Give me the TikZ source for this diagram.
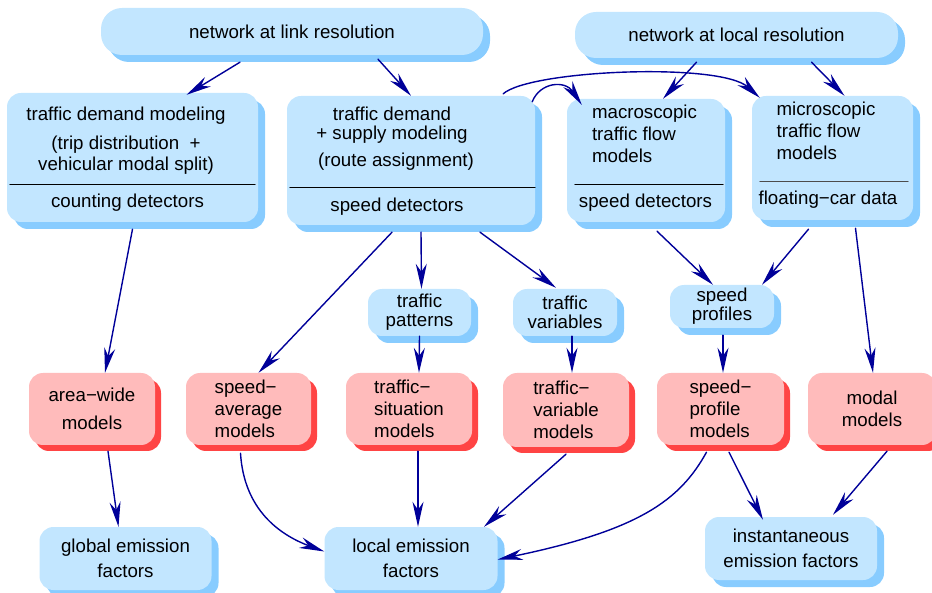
\documentclass[tikz,border=0pt]{standalone}
\usepackage{fontspec}
\setmainfont{Liberation Sans}
\usetikzlibrary{arrows.meta,positioning,calc,shadows}
\definecolor{boxfill}{HTML}{C2E6FF}
\definecolor{boxshade}{HTML}{88CCFF}
\definecolor{modfill}{HTML}{FFBBBB}
\definecolor{modshade}{HTML}{FF4444}
\definecolor{flow}{HTML}{000099}
\tikzset{
  arr/.style={-{Stealth[length=25pt,width=11pt,inset=8pt]}, line width=1.4pt, draw=flow},
  figbase/.style={
    font=\fontsize{18.7}{22}\selectfont,
    color=black,
    line cap=round,
    line join=round,
  },
  box/.style={
    rounded corners=14pt,
    inner sep=0pt,
    align=center,
    text=black,
  },
  bluebox/.style={box, fill=boxfill,
    drop shadow={shadow xshift=7pt, shadow yshift=-7pt, fill=boxshade, opacity=1}},
  redbox/.style={box, fill=modfill, minimum height=72pt,
    drop shadow={shadow xshift=6pt, shadow yshift=-6pt, fill=modshade, opacity=1}},
  netbox/.style={bluebox, rounded corners=21pt},
  txt/.style={inner sep=0pt, align=center, text=black},
  sep/.style={line width=1pt, draw=black},
  tight/.style={font=\fontsize{18.7}{19}\selectfont},
  wide/.style={font=\fontsize{18.7}{25}\selectfont},
}

\begin{document}
\begin{tikzpicture}[figbase, x=1pt, y=-1pt]
  \useasboundingbox (0,0) rectangle (932,593);

  % networks
  \node[netbox, minimum width=382pt, minimum height=47pt] (linknet) at (292,31.5) {network at link resolution};
  \node[netbox, minimum width=323pt, minimum height=46pt] (localnet) at (736.5,35) {network at local resolution};

  % modeling stages with their detector data
  \node[bluebox, minimum width=251pt, minimum height=129pt] (demand) at (132.5,157.5) {};
  \node[txt] (demandhead) at (126,116) {traffic demand modeling};
  \node[txt, font=\fontsize{18.7}{21}\selectfont] (demandsub) at (126,155.5) {(trip distribution\ \ +\\vehicular modal split)};
  \node[txt] (demanddata) at (127.5,203) {counting detectors};
  \draw[sep] ($(demand.south west)+(3,-38)$) -- ($(demand.south east)+(-3,-38)$);

  \node[bluebox, minimum width=248pt, minimum height=129pt] (supply) at (411,160.5) {};
  \node[txt, tight] (supplyhead) at (392,125) {traffic demand\\+ supply modeling};
  \node[txt] (supplysub) at (396,162) {(route assignment)};
  \node[txt] (supplydata) at (397,207) {speed detectors};
  \draw[sep] ($(supply.south west)+(3,-38)$) -- ($(supply.south east)+(0,-38)$);

  \node[bluebox, minimum width=158pt, minimum height=123pt] (macro) at (646,160.5) {};
  \node[txt, align=left] (macrohead) at (644.5,134) {macroscopic\\traffic flow\\models};
  \node[txt] (macrodata) at (645.5,203) {speed detectors};
  \draw[sep] ($(macro.south west)+(8,-38)$) -- ($(macro.south east)+(-2,-38)$);

  \node[bluebox, minimum width=161pt, minimum height=124pt] (micro) at (832.5,158) {};
  \node[txt, align=left] (microhead) at (826,131) {microscopic\\traffic flow\\models};
  \node[txt] (microdata) at (828,200) {floating−car data};
  \draw[sep, draw=black!70] ($(micro.south west)+(8,-39)$) -- ($(micro.south east)+(-5,-39)$);

  % traffic data
  \node[bluebox, tight, minimum width=103pt, minimum height=47pt] (patterns) at (419.5,312.5) {traffic\\patterns};
  \node[bluebox, tight, minimum width=104pt, minimum height=47pt] (variables) at (565,312.5) {traffic\\variables};
  \node[bluebox, tight, minimum width=104pt, minimum height=43pt] (profiles) at (722,306.5) {speed\\profiles};

  % emission models
  \node[redbox, font=\fontsize{18.7}{28}\selectfont, minimum width=126pt] (areawide) at (92,409) {area−wide\\models};
  \node[redbox, align=left, minimum width=125pt] (spdavg) at (248.5,409) {speed−\\average\\models};
  \node[redbox, align=left, minimum width=126pt] (situation) at (409,409) {traffic−\\situation\\models};
  \node[redbox, align=left, minimum width=126pt, minimum height=74pt] (varmodels) at (566,410) {traffic−\\variable\\models};
  \node[redbox, align=left, minimum width=127pt] (profmodels) at (720.5,409) {speed−\\profile\\models};
  \node[redbox, minimum width=128pt] (modal) at (872,409) {modal\\models};

  % emission factors
  \node[bluebox, wide, minimum width=172pt, minimum height=63pt] (globalef) at (125.5,558.5) {global emission\\factors};
  \node[bluebox, wide, minimum width=173pt, minimum height=63pt] (localef) at (411,558.5) {local emission\\factors};
  \node[bluebox, wide, minimum width=172pt, minimum height=63pt] (instef) at (791,548.5) {instantaneous\\emission factors};

  % connectors
  \draw[arr] ($(linknet.south)+(-52,7)$) -- ($(demand.north)+(54,2)$);
  \draw[arr] ($(linknet.south)+(86,4)$) -- (supply.north);
  \draw[arr] ($(localnet.south)+(-40,4)$) -- ($(macro.north)+(17,0)$);
  \draw[arr] ($(localnet.south)+(75,4)$) -- ($(micro.north)+(12,0)$);
  \draw[arr] ($(supply.north east)+(-32,-2)$) .. controls (530,70) and (720,62) .. ($(micro.north west)+(8,2)$);
  \draw[arr] ($(supply.north east)+(-3,6)$) .. controls (540,82) and (565,80) .. ($(macro.north west)+(15,6)$);

  \draw[arr] ($(demand.south)+(0,7)$) -- ($(areawide.north)+(13,0)$);
  \draw[arr] ($(supply.south)+(-19,7)$) -- ($(spdavg.north)+(10,0)$);
  \draw[arr] ($(supply.south)+(10,7)$) -- ($(patterns.north)+(2,0)$);
  \draw[arr] ($(supply.south)+(69,7)$) -- ($(variables.north)+(-9,-1)$);
  \draw[arr] ($(macro.south)+(11,9)$) -- ($(profiles.north)+(-9,0)$);
  \draw[arr] ($(micro.south)+(-24,9)$) -- ($(profiles.north)+(40,0)$);
  \draw[arr] ($(micro.south)+(23,8)$) -- ($(modal.north)+(1,0)$);

  \draw[arr] (patterns.south) -- ($(situation.north)+(10,0)$);
  \draw[arr] ($(variables.south)+(7,0)$) -- ($(varmodels.north)+(6,0)$);
  \draw[arr] ($(profiles.south)+(1,7)$) -- ($(profmodels.north)+(2.5,0)$);

  \draw[arr] ($(areawide.south)+(16,6)$) -- ($(globalef.north)+(-7,0)$);
  \draw[arr] ($(spdavg.south)+(-8,8)$) .. controls (244,510) and (280,535) .. ($(localef.west)+(0,-7)$);
  \draw[arr] ($(situation.south)+(9,6)$) -- ($(localef.north)+(7,0)$);
  \draw[arr] ($(varmodels.south)+(0,7)$) -- ($(localef.north)+(73,0)$);
  \draw[arr] ($(profmodels.south)+(-14,7)$) .. controls (680,500) and (640,530) .. ($(localef.east)+(0,1)$);
  \draw[arr] ($(profmodels.south)+(8.5,7)$) -- ($(instef.north)+(-28,3)$);
  \draw[arr] ($(modal.south)+(15,6)$) -- ($(instef.north)+(42,-2)$);
\end{tikzpicture}
\end{document}
